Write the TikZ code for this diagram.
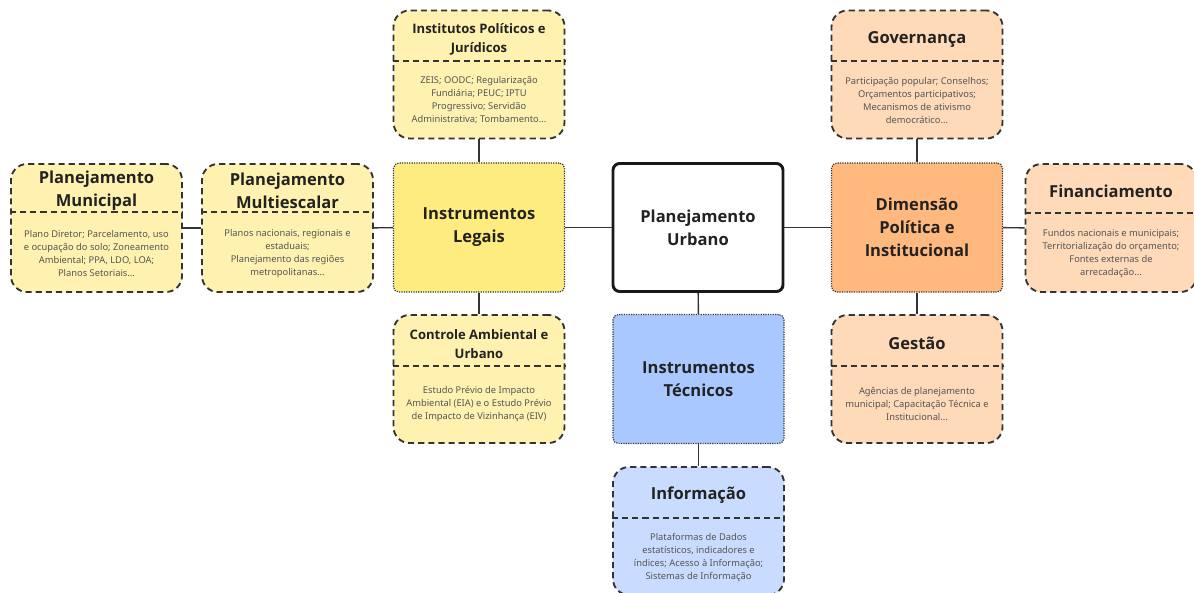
\documentclass[tikz,border=0pt]{standalone}
\usepackage{fontspec}
\setmainfont{Noto Sans}
\newfontfamily\headfont{Open Sans}

\definecolor{inkdark}{RGB}{34,34,34}
\definecolor{inkgray}{RGB}{85,85,85}
\definecolor{edgegray}{RGB}{51,51,51}
\definecolor{ylight}{RGB}{255,242,176}
\definecolor{ystrong}{RGB}{255,236,128}
\definecolor{olight}{RGB}{255,218,185}
\definecolor{ostrong}{RGB}{255,184,125}
\definecolor{blight}{RGB}{201,220,255}
\definecolor{bstrong}{RGB}{168,200,255}

\tikzset{every picture/.style={line width=0.75pt}}
\tikzset{
  subbox/.style={draw=edgegray, line width=1.4pt, dash pattern=on 4.6pt off 3pt,
    rounded corners=12pt, minimum width=128.25pt, minimum height=96pt, inner sep=0pt},
  catbox/.style={draw=edgegray, line width=0.9pt, dash pattern=on 0.9pt off 0.9pt,
    rounded corners=4pt, minimum width=128.25pt, minimum height=96.75pt, inner sep=0pt},
  rootbox/.style={draw=black!90, line width=2.2pt, rounded corners=5pt,
    minimum width=127.5pt, minimum height=96pt, fill=white, inner sep=0pt},
  divline/.style={draw=edgegray, line width=1.4pt, dash pattern=on 4.6pt off 3pt},
  link/.style={draw=edgegray, line width=1.1pt},
  bigtitle/.style={inner sep=0pt, align=center, text=inkdark, font=\headfont\bfseries\fontsize{12.4}{17.25}\selectfont},
  smalltitle/.style={inner sep=0pt, align=center, text=inkdark, font=\headfont\bfseries\fontsize{9.8}{14.25}\selectfont},
  bodytext/.style={inner sep=0pt, align=center, text=inkgray, font=\fontsize{7}{9.75}\selectfont}
}

\begin{document}
\begin{tikzpicture}[x=0.75pt,y=0.75pt,yscale=-1,xscale=1]
\useasboundingbox (0,0) rectangle (1194,592);

%Rounded Rect -- root
\node [rootbox] (urb) at (698,227.5) {};
%Rounded Rect -- categories
\node [catbox, fill=ystrong] (leg) at (479,227.5) {};
\node [catbox, fill=bstrong] (tec) at (698.5,379) {};
\node [catbox, fill=ostrong] (dim) at (917,227.5) {};

%Rounded Rect -- yellow branch
\node [subbox, fill=ylight] (mun) at (96.5,228) {};
\node [subbox, fill=ylight] (mul) at (287.5,228) {};
\node [subbox, fill=ylight] (ins) at (479,74.5) {};
\node [subbox, fill=ylight] (amb) at (479,379) {};
%Rounded Rect -- blue branch
\node [subbox, fill=blight] (inf) at (698.5,531) {};
%Rounded Rect -- orange branch
\node [subbox, fill=olight] (gov) at (917,74.5) {};
\node [subbox, fill=olight] (fin) at (1111,228) {};
\node [subbox, fill=olight] (ges) at (917,379) {};

%Straight Lines
\draw [link] (mun) -- (mul);
\draw [link] (mul) -- (leg);
\draw [link] (leg) -- (urb);
\draw [link] (urb) -- (dim);
\draw [link] (dim) -- (fin);
\draw [link] (ins) -- (leg);
\draw [link] (leg) -- (amb);
\draw [link] (urb) -- (tec);
\draw [link] (tec) -- (inf);
\draw [link] (gov) -- (dim);
\draw [link] (dim) -- (ges);

%Straight Lines -- dividers
\draw [divline] (mun.west |- 0,212) -- (mun.east |- 0,212);
\draw [divline] (mul.west |- 0,212) -- (mul.east |- 0,212);
\draw [divline] (ins.west |- 0,61) -- (ins.east |- 0,61);
\draw [divline] (amb.west |- 0,366) -- (amb.east |- 0,366);
\draw [divline] (inf.west |- 0,518) -- (inf.east |- 0,518);
\draw [divline] (gov.west |- 0,61) -- (gov.east |- 0,61);
\draw [divline] (fin.west |- 0,213) -- (fin.east |- 0,213);
\draw [divline] (ges.west |- 0,366) -- (ges.east |- 0,366);

% Text Node
\node [bigtitle] (urbT) at (urb) {Planejamento\\Urbano};
% Text Node
\node [bigtitle] (legT) at (leg) {Instrumentos\\Legais};
% Text Node
\node [bigtitle] (tecT) at (tec) {Instrumentos\\Técnicos};
% Text Node
\node [bigtitle] (dimT) at (dim) {Dimensão\\Política e\\Institucional};

% Text Node
\node [bigtitle] (munT) at (96.5,191) {Planejamento\\Municipal};
% Text Node
\node [bodytext] (munB) at (96.5,254) {Plano Diretor; Parcelamento, uso\\e ocupação do solo; Zoneamento\\Ambiental; PPA, LDO, LOA;\\Planos Setoriais...};
% Text Node
\node [bigtitle] (mulT) at (287.5,191) {Planejamento\\Multiescalar};
% Text Node
\node [bodytext] (mulB) at (287.5,254) {Planos nacionais, regionais e\\estaduais;\\Planejamento das regiões\\metropolitanas...};
% Text Node
\node [smalltitle] (insT) at (479,39) {Institutos Políticos e\\Jurídicos};
% Text Node
\node [bodytext] (insB) at (479,100.5) {ZEIS; OODC; Regularização\\Fundiária; PEUC; IPTU\\Progressivo; Servidão\\Administrativa; Tombamento...};
% Text Node
\node [smalltitle] (ambT) at (479,344) {Controle Ambiental e\\Urbano};
% Text Node
\node [bodytext] (ambB) at (479,404) {Estudo Prévio de Impacto\\Ambiental (EIA) e o Estudo Prévio\\de Impacto de Vizinhança (EIV)};
% Text Node
\node [bigtitle] (infT) at (698.5,495) {Informação};
% Text Node
\node [bodytext] (infB) at (698.5,558) {Plataformas de Dados\\estatísticos, indicadores e\\índices; Acesso à Informação;\\Sistemas de Informação};
% Text Node
\node [bigtitle] (govT) at (917,39.5) {Governança};
% Text Node
\node [bodytext] (govB) at (917,100.5) {Participação popular; Conselhos;\\Orçamentos participativos;\\Mecanismos de ativismo\\democrático...};
% Text Node
\node [bigtitle] (finT) at (1111,191) {Financiamento};
% Text Node
\node [bodytext] (finB) at (1111,253.5) {Fundos nacionais e municipais;\\Territorialização do orçamento;\\Fontes externas de\\arrecadação...};
% Text Node
\node [bigtitle] (gesT) at (917,343.5) {Gestão};
% Text Node
\node [bodytext] (gesB) at (917,404) {Agências de planejamento\\municipal; Capacitação Técnica e\\Institucional...};
\end{tikzpicture}
\end{document}
